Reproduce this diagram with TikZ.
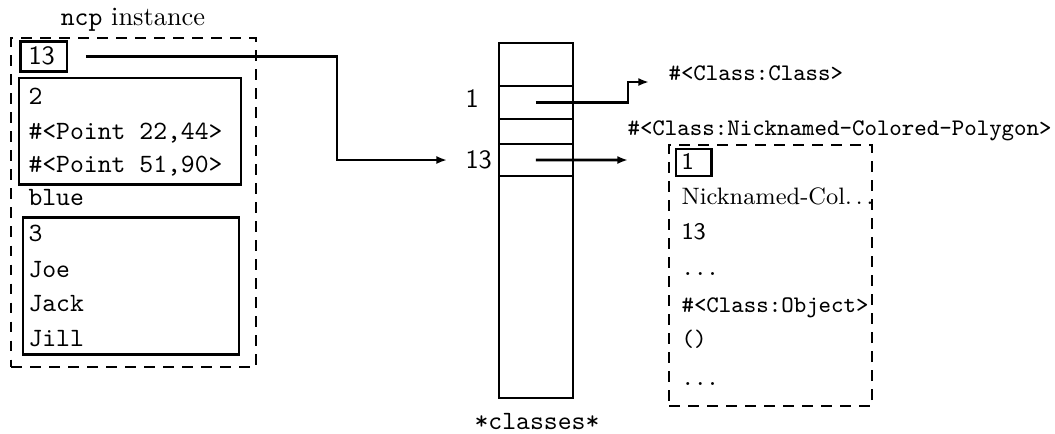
\documentclass[tikz,border=0pt]{standalone}
\usepackage{tikz}
\usetikzlibrary{arrows.meta,positioning}
\tikzset{
  cell/.style={
    draw,
    line width=1.05pt,
    inner sep=0pt,
    outer sep=0pt,
    anchor=north west
  },
  dashcell/.style={
    draw,
    line width=1.05pt,
    dash pattern=on 4pt off 3.2pt,
    inner sep=0pt,
    outer sep=0pt,
    anchor=north west
  },
  entry/.style={
    font=\ttfamily,
    anchor=west,
    inner sep=0pt,
    text height=6.1pt,
    text depth=0pt
  },
  smentry/.style={
    entry,
    font=\small\ttfamily,
    text height=5.5pt
  },
  ptr/.style={
    -{Latex[length=4pt,width=3pt]},
    line width=1.05pt
  }
}

\begin{document}
\begin{tikzpicture}[x=0.3788pt, y=-0.3788pt]
\useasboundingbox (0,0) rectangle (1055,433);
% the ncp instance
\node[anchor=base] (title) at (133,25) {\texttt{ncp} instance};
\node[dashcell, minimum width=92.8pt, minimum height=124.6pt] (inst) at (11,38) {};
\node[cell, minimum width=17.5pt, minimum height=11.4pt] (hdr) at (20.7,41.7) {};
\node[entry, font=\sffamily] (hdrval) at (28,56) {13};
\node[cell, minimum width=84.1pt, minimum height=40.2pt] (pts) at (19,78) {};
\node[entry] (npts) at (28,96) {2};
\node[entry] (pta) at (28,131) {\#<Point 22,44>};
\node[entry] (ptb) at (28,164) {\#<Point 51,90>};
\node[entry] (color) at (28,197) {blue};
\node[cell, minimum width=81.8pt, minimum height=51.8pt] (names) at (23,217.5) {};
\node[entry] (nnames) at (28,233) {3};
\node[entry] (joe) at (28,269) {Joe};
\node[entry] (jack) at (28,303) {Jack};
\node[entry] (jill) at (28,338) {Jill};
% the *classes* vector
\node[cell, minimum width=28pt, minimum height=134.5pt] (classes) at (499,43) {};
\node[cell, minimum width=28pt, minimum height=12.5pt] (slot1) at (499,86) {};
\node[cell, minimum width=28pt, minimum height=9.47pt] (slotx) at (499,119) {};
\node[cell, minimum width=28pt, minimum height=12.1pt] (slot13) at (499,144) {};
\node[entry, font=\sffamily] (idx1) at (465,99) {1};
\node[entry, font=\sffamily] (idx13) at (465,160) {13};
\node[entry, anchor=center] (classeslbl) at (537,421) {*classes*};
% the class objects
\node[smentry] (clsclass) at (668,73) {\#<Class:Class>};
\node[smentry] (clsncp) at (627,128) {\#<Class:Nicknamed-Colored-Polygon>};
\node[dashcell, minimum width=76.9pt, minimum height=98.9pt] (ncpcls) at (669,145) {};
\node[cell, minimum width=13.3pt, minimum height=10.2pt] (metahdr) at (676,149) {};
\node[smentry, font=\small\sffamily] (metaval) at (681,162) {1};
\node[smentry, font=\small\rmfamily] (clsname) at (681,197) {Nicknamed-Col.\kern0.17em.\kern0.17em.};
\node[smentry, font=\small\sffamily] (clsidx) at (681,232) {13};
\node[smentry] (dotsa) at (681,268) {...};
\node[smentry] (super) at (681,305) {\#<Class:Object>};
\node[smentry] (slotsnil) at (681,339) {()};
\node[smentry] (dotsb) at (681,378) {...};
% pointers
\coordinate (bendA) at (337,160);
\coordinate (jogA) at (628,82);
\coordinate (tipA) at (649,82);
\coordinate (tipB) at (628,160);
\draw[ptr, shorten <=7.2pt, shorten >=6.8pt] (hdr.east) -| (bendA) -- (idx13.west);
\draw[ptr] (slot1.center) -| (jogA) -- (tipA);
\draw[ptr] (slot13.center) -- (tipB);
\end{tikzpicture}
\end{document}
